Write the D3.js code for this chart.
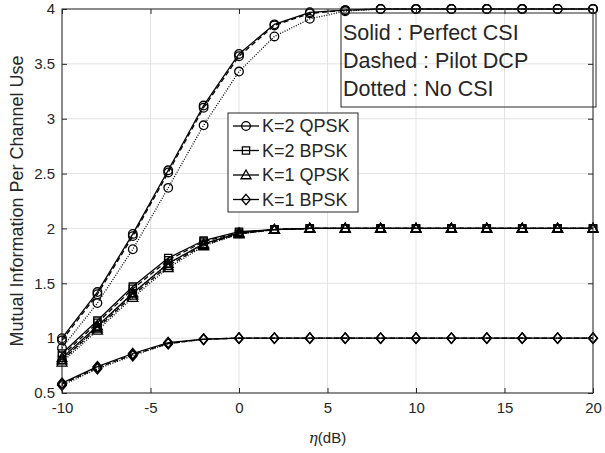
<!DOCTYPE html>
<html>
<head>
<meta charset="utf-8">
<script src="https://cdn.jsdelivr.net/npm/d3@7"></script>
<style>
  body { margin: 0; background: #fff; }
  text { font-family: "Liberation Sans", Arial, sans-serif; fill: #262626; }
</style>
</head>
<body>
<div id="chart"></div>
<script>
// mutual information vs eta, three CSI cases per modulation

var snr = [-10, -8, -6, -4, -2, 0, 2, 4, 6, 8, 10, 12, 14, 16, 18, 20];

var k2qpskSolid  = [1.00, 1.42, 1.95, 2.53, 3.12, 3.59, 3.86, 3.97, 3.99, 4.00, 4.00, 4.00, 4.00, 4.00, 4.00, 4.00];
var k2qpskDashed = [0.98, 1.40, 1.93, 2.51, 3.10, 3.57, 3.85, 3.96, 3.99, 4.00, 4.00, 4.00, 4.00, 4.00, 4.00, 4.00];
var k2qpskDotted = [0.91, 1.32, 1.81, 2.37, 2.94, 3.43, 3.75, 3.91, 3.98, 4.00, 4.00, 4.00, 4.00, 4.00, 4.00, 4.00];

var k2bpskSolid  = [0.86, 1.16, 1.47, 1.73, 1.89, 1.97, 1.99, 2.00, 2.00, 2.00, 2.00, 2.00, 2.00, 2.00, 2.00, 2.00];
var k2bpskDashed = [0.84, 1.14, 1.45, 1.71, 1.88, 1.96, 1.99, 2.00, 2.00, 2.00, 2.00, 2.00, 2.00, 2.00, 2.00, 2.00];
var k2bpskDotted = [0.80, 1.10, 1.41, 1.68, 1.86, 1.95, 1.99, 2.00, 2.00, 2.00, 2.00, 2.00, 2.00, 2.00, 2.00, 2.00];

var k1qpskSolid  = [0.82, 1.11, 1.41, 1.68, 1.86, 1.96, 1.99, 2.00, 2.00, 2.00, 2.00, 2.00, 2.00, 2.00, 2.00, 2.00];
var k1qpskDashed = [0.80, 1.09, 1.39, 1.66, 1.85, 1.95, 1.99, 2.00, 2.00, 2.00, 2.00, 2.00, 2.00, 2.00, 2.00, 2.00];
var k1qpskDotted = [0.78, 1.07, 1.37, 1.64, 1.84, 1.95, 1.99, 2.00, 2.00, 2.00, 2.00, 2.00, 2.00, 2.00, 2.00, 2.00];

var k1bpskSolid  = [0.59, 0.74, 0.86, 0.96, 0.99, 1.00, 1.00, 1.00, 1.00, 1.00, 1.00, 1.00, 1.00, 1.00, 1.00, 1.00];
var k1bpskDashed = [0.58, 0.73, 0.85, 0.95, 0.99, 1.00, 1.00, 1.00, 1.00, 1.00, 1.00, 1.00, 1.00, 1.00, 1.00, 1.00];
var k1bpskDotted = [0.57, 0.72, 0.84, 0.95, 0.99, 1.00, 1.00, 1.00, 1.00, 1.00, 1.00, 1.00, 1.00, 1.00, 1.00, 1.00];

var legendLabels = ["K=2 QPSK", "K=2 BPSK", "K=1 QPSK", "K=1 BPSK"];
var markerNames  = ["circle", "square", "triangle", "diamond"];
var noteLines = ["Solid : Perfect CSI", "Dashed : Pilot DCP", "Dotted : No CSI"];
var xTicks = [-10, -5, 0, 5, 10, 15, 20];
var yTicks = [0.5, 1, 1.5, 2, 2.5, 3, 3.5, 4];

var series = [
  { vals: k2qpskSolid,  dash: null,    mk: 0 },
  { vals: k2qpskDashed, dash: "5,3",   mk: 0 },
  { vals: k2qpskDotted, dash: "1,1.5", mk: 0 },
  { vals: k2bpskSolid,  dash: null,    mk: 1 },
  { vals: k2bpskDashed, dash: "5,3",   mk: 1 },
  { vals: k2bpskDotted, dash: "1,1.5", mk: 1 },
  { vals: k1qpskSolid,  dash: null,    mk: 2 },
  { vals: k1qpskDashed, dash: "5,3",   mk: 2 },
  { vals: k1qpskDotted, dash: "1,1.5", mk: 2 },
  { vals: k1bpskSolid,  dash: null,    mk: 3 },
  { vals: k1bpskDashed, dash: "5,3",   mk: 3 },
  { vals: k1bpskDotted, dash: "1,1.5", mk: 3 }
];

var W = 605, H = 453;
var pL = 62, pR = 593, pT = 9, pB = 393;

var x = d3.scaleLinear().domain([-10, 20]).range([pL, pR]);
var y = d3.scaleLinear().domain([0.5, 4]).range([pB, pT]);

var svg = d3.select("#chart").append("svg")
  .attr("width", W).attr("height", H)
  .style("background", "#fff");

// grid
var grid = svg.append("g").attr("stroke", "#e3e3e3").attr("stroke-width", 1);
grid.selectAll("line.gx").data(xTicks).enter().append("line")
  .attr("x1", function(d) { return x(d); }).attr("x2", function(d) { return x(d); })
  .attr("y1", pT).attr("y2", pB);
grid.selectAll("line.gy").data(yTicks).enter().append("line")
  .attr("y1", function(d) { return y(d); }).attr("y2", function(d) { return y(d); })
  .attr("x1", pL).attr("x2", pR);

// marker shapes
function markerPath(kind, cx, cy) {
  if (kind == "circle") {
    var r = 4.3;
    return "M" + (cx + r) + "," + cy + "A" + r + "," + r + " 0 1,1 " + (cx - r) + "," + cy +
           "A" + r + "," + r + " 0 1,1 " + (cx + r) + "," + cy + "Z";
  }
  if (kind == "square") {
    var s = 3.6;
    return "M" + (cx - s) + "," + (cy - s) + "H" + (cx + s) + "V" + (cy + s) + "H" + (cx - s) + "Z";
  }
  if (kind == "triangle") {
    var t = 5;
    return "M" + cx + "," + (cy - t) + "L" + (cx + t) + "," + (cy + t * 0.75) + "L" + (cx - t) + "," + (cy + t * 0.75) + "Z";
  }
  var d = 5.2;
  return "M" + cx + "," + (cy - d) + "L" + (cx + d * 0.85) + "," + cy + "L" + cx + "," + (cy + d) + "L" + (cx - d * 0.85) + "," + cy + "Z";
}

var line = d3.line()
  .x(function(d, i) { return x(snr[i]); })
  .y(function(d) { return y(d); });

var plot = svg.append("g");
series.forEach(function(s) {
  plot.append("path")
    .attr("d", line(s.vals))
    .attr("fill", "none")
    .attr("stroke", "#000")
    .attr("stroke-width", 1.3)
    .attr("stroke-dasharray", s.dash);
  plot.selectAll(null).data(s.vals).enter().append("path")
    .attr("d", function(d, i) { return markerPath(markerNames[s.mk], x(snr[i]), y(d)); })
    .attr("fill", "none")
    .attr("stroke", "#000")
    .attr("stroke-width", 1.3);
});

// axes box with inward ticks
var axes = svg.append("g");
axes.append("rect")
  .attr("x", pL).attr("y", pT)
  .attr("width", pR - pL).attr("height", pB - pT)
  .attr("fill", "none").attr("stroke", "#262626").attr("stroke-width", 1);

var xb = d3.axisBottom(x).tickValues(xTicks).tickSize(-5).tickPadding(9).tickFormat(function(d) { return String(d); });
var xt = d3.axisTop(x).tickValues(xTicks).tickSize(-5).tickFormat("");
var yl = d3.axisLeft(y).tickValues(yTicks).tickSize(-5).tickPadding(7).tickFormat(function(d) { return String(d); });
var yr = d3.axisRight(y).tickValues(yTicks).tickSize(-5).tickFormat("");

function styleAxis(g) {
  g.select(".domain").remove();
  g.selectAll(".tick line").attr("stroke", "#262626");
  g.selectAll(".tick text").attr("fill", "#262626").style("font-size", "15px")
    .style("font-family", "'Liberation Sans', Arial, sans-serif");
}
axes.append("g").attr("transform", "translate(0," + pB + ")").call(xb).call(styleAxis);
axes.append("g").attr("transform", "translate(0," + pT + ")").call(xt).call(styleAxis);
axes.append("g").attr("transform", "translate(" + pL + ",0)").call(yl).call(styleAxis);
axes.append("g").attr("transform", "translate(" + pR + ",0)").call(yr).call(styleAxis);

// axis labels
var xl = svg.append("text")
  .attr("x", (pL + pR) / 2).attr("y", 443)
  .attr("text-anchor", "middle")
  .style("font-size", "15px");
xl.append("tspan").style("font-family", "'DejaVu Serif', 'Liberation Serif', serif").style("font-style", "italic").text("η");
xl.append("tspan").text("(dB)");

svg.append("text")
  .attr("transform", "translate(23," + (pT + pB) / 2 + ") rotate(-90)")
  .attr("text-anchor", "middle")
  .style("font-size", "18px")
  .text("Mutual Information Per Channel Use");

// legend
var lg = svg.append("g");
lg.append("rect")
  .attr("x", 228).attr("y", 113).attr("width", 130).attr("height", 99)
  .attr("fill", "#fff").attr("stroke", "#262626").attr("stroke-width", 1);
legendLabels.forEach(function(lab, i) {
  var cy = 126 + i * 24.5;
  lg.append("line").attr("x1", 233).attr("x2", 259).attr("y1", cy).attr("y2", cy)
    .attr("stroke", "#000").attr("stroke-width", 1.3);
  lg.append("path").attr("d", markerPath(markerNames[i], 246, cy))
    .attr("fill", "none").attr("stroke", "#000").attr("stroke-width", 1.3);
  lg.append("text").attr("x", 262).attr("y", cy).attr("dy", "0.35em")
    .style("font-size", "18px").text(lab);
});

// note box
var nb = svg.append("g");
nb.append("rect")
  .attr("x", 341).attr("y", 13).attr("width", 255).attr("height", 94)
  .attr("fill", "none").attr("stroke", "#262626").attr("stroke-width", 1);
noteLines.forEach(function(t, i) {
  nb.append("text").attr("x", 343).attr("y", 32 + i * 28).attr("dy", "0.35em")
    .style("font-size", "21.5px").text(t);
});
</script>
</body>
</html>
